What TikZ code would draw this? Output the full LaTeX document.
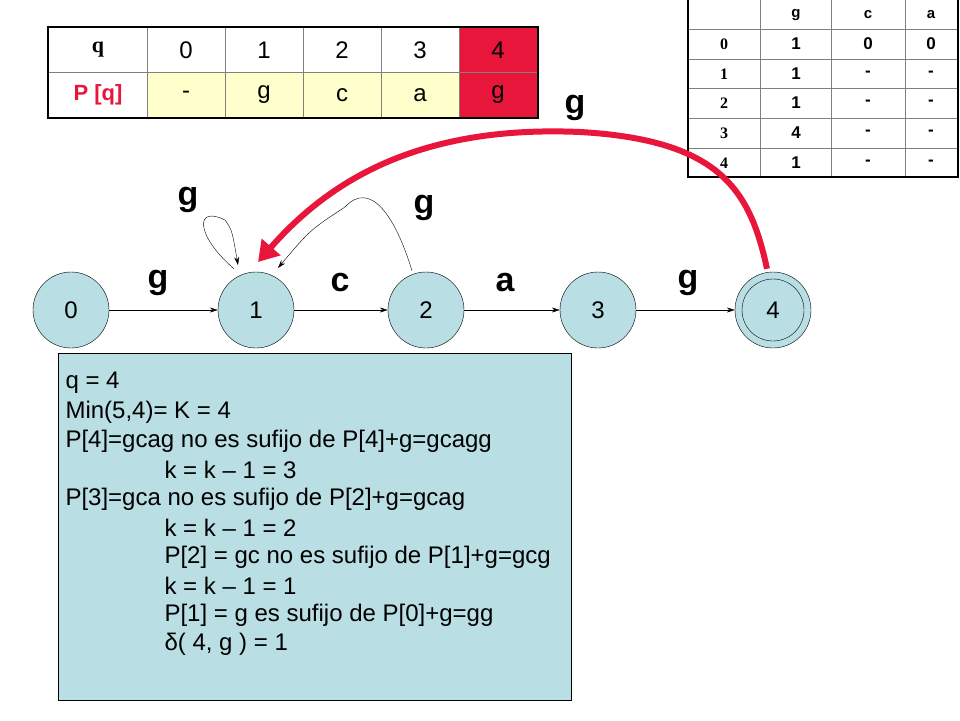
\documentclass[tikz,border=0pt]{standalone}
\usepackage{fontspec}
\setmainfont{Liberation Sans}
\newfontfamily\serifx{Liberation Serif}
\usetikzlibrary{shapes.geometric,arrows.meta}
\definecolor{st}{HTML}{B9DEE3}
\definecolor{rd}{HTML}{E8163A}
\definecolor{yl}{HTML}{FFFFCC}
\begin{document}
\begin{tikzpicture}[x=1pt,y=-1pt,
 state/.style={circle,draw,fill=st,minimum size=76pt,inner sep=0pt,font=\fontsize{24}{28}\selectfont},
 lbl/.style={font=\bfseries\fontsize{34}{38}\selectfont},
 tr/.style={-{Stealth[length=8pt,width=5pt]}},
 tx/.style={anchor=west,font=\fontsize{24}{28}\selectfont}]
\useasboundingbox (0,0) rectangle (960,720);
% top-left table
\fill[yl] (147,72) rectangle (459,118);
\fill[rd] (459,27) rectangle (538,118);
\draw[gray] (48,72)--(538,72);
\foreach \x in {147,225,303,381,459} \draw[gray] (\x,27)--(\x,118);
\draw[line width=2pt] (48,27) rectangle (538,118);
\node[font=\serifx\bfseries\fontsize{22}{24}\selectfont] (tq) at (98,50) {q};
\node[font=\bfseries\fontsize{22}{24}\selectfont,text=rd] (tp) at (98,95) {P [q]};
\foreach \x/\a/\b [count=\i] in {186/0/-,264/1/g,342/2/c,420/3/a,498/4/g}{
 \node[font=\fontsize{24}{28}\selectfont] (ta\i) at (\x,50) {\a};
 \node[font=\fontsize{24}{28}\selectfont] (tb\i) at (\x,95) {\b};}
% top-right table
\foreach \y in {29,59,88,118,148} \draw[gray] (688,\y)--(958,\y);
\foreach \x in {760,831,905} \draw[gray] (\x,0)--(\x,177);
\draw[line width=2pt] (688,-2) rectangle (958,177);
\foreach \x/\t [count=\i] in {796/g,868/c,931/a} \node[font=\bfseries\fontsize{15}{16}\selectfont] (h\i) at (\x,15) {\t};
\foreach \y/\r/\g/\c [count=\i] in {44/0/1/0,74/1/1/-,103/2/1/-,133/3/4/-,163/4/1/-}{
 \node[font=\serifx\bfseries\fontsize{16}{16}\selectfont] (r\i) at (724,\y) {\r};
 \node[font=\bfseries\fontsize{17}{17}\selectfont] (g\i) at (796,\y) {\g};
 \node[font=\bfseries\fontsize{17}{17}\selectfont] (c\i) at (868,\y) {\c};
 \node[font=\bfseries\fontsize{17}{17}\selectfont] (a\i) at (931,\y) {\c};}
% states
\node[state] (s0) at (71,310) {0};
\node[state] (s1) at (256,310) {1};
\node[state] (s2) at (426,310) {2};
\node[state] (s3) at (598,310) {3};
\node[state] (s4) at (773,310) {4};
\node[circle,draw,minimum size=62pt] (s4i) at (773,310) {};
\draw[tr] (s0)--(s1);
\draw[tr] (s1)--(s2);
\draw[tr] (s2)--(s3);
\draw[tr] (s3)--(s4);
\node[lbl] (l1) at (158,283) {g};
\node[lbl] (l2) at (340,283) {c};
\node[lbl] (l3) at (505,283) {a};
\node[lbl] (l4) at (688,283) {g};
\node[lbl] (l5) at (188,200) {g};
\node[lbl] (l6) at (424,208) {g};
\node[lbl] (l7) at (575,108) {g};
\draw[tr] (s1.north)+(-22,-3) .. controls (195,235) and (195,205) .. (225,220) .. controls (232,230) .. (238,265);
\draw[tr] (s2.north)+(-14,-1) .. controls (395,215) and (370,180) .. (345,207) .. controls (310,230) .. (278,268);
\draw[rd,line width=6pt,-{Triangle[length=20pt,width=24pt]}] (s4.north)+(-6,-3) .. controls (750,190) and (720,140) .. (580,132) .. controls (420,125) and (330,180) .. (258,262);
% text box
\node[draw,fill=st,anchor=north west,minimum width=513pt,minimum height=347pt] (box) at (58,353) {};
\foreach \t/\xx [count=\i] in {
 {q = 4}/66,
 {Min(5,4)= K = 4}/66,
 {P[4]=gcag no es sufijo de P[4]+g=gcagg}/66,
 {k = k – 1 = 3}/165,
 {P[3]=gca no es sufijo de P[2]+g=gcag}/66,
 {k = k – 1 = 2}/165,
 {P[2] = gc no es sufijo de P[1]+g=gcg}/165,
 {k = k – 1 = 1}/165,
 {P[1] = g es sufijo de P[0]+g=gg}/165,
 {δ( 4, g ) = 1}/165}
 \node[tx] (t\i) at (\xx-4,353+30+29*\i-29) {\t};
\end{tikzpicture}
\end{document}
